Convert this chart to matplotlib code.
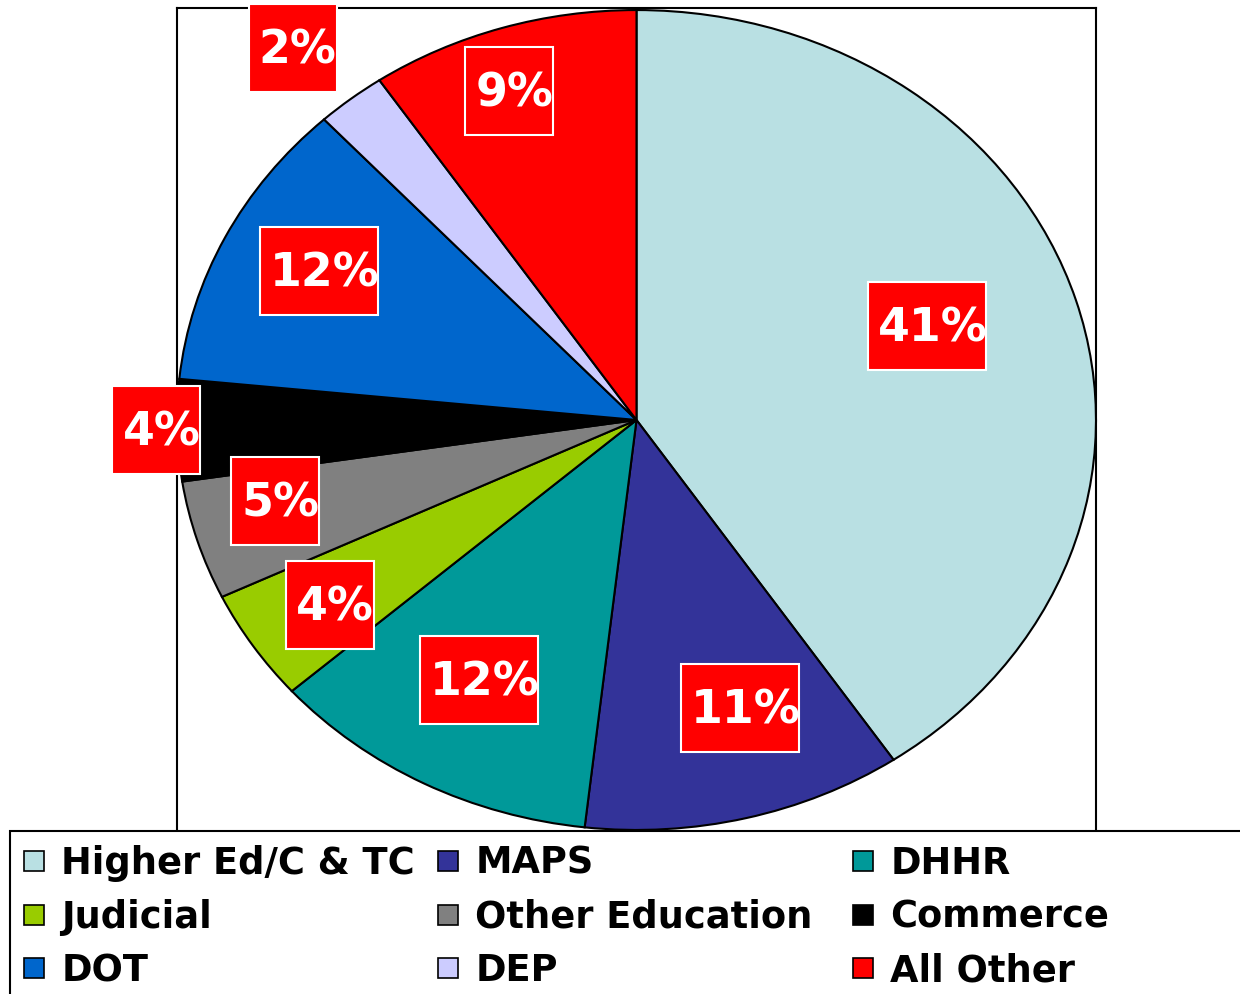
import matplotlib
matplotlib.use("Agg")
import matplotlib.pyplot as plt
import numpy as np
from matplotlib.lines import Line2D
from matplotlib.patches import Rectangle
from matplotlib.transforms import IdentityTransform

categories = ["Higher Ed/C & TC", "MAPS", "DHHR", "Judicial", "Other Education",
              "Commerce", "DOT", "DEP", "All Other"]
shares = [40.55, 11.25, 11.7, 4.4, 4.7, 4.0, 11.5, 2.45, 9.45]
colors = ["#B9E0E3", "#333399", "#009999", "#99CC00", "#808080",
          "#000000", "#0066CC", "#CCCCFF", "#FF0000"]
# label placement: radial distance and relative position within the slice
label_radius = [0.673, 0.738, 0.722, 0.806, 0.81, 1.045, 0.781, 1.177, 0.848]
label_frac = [0.48, 0.40, 0.52, 0.46, 0.68, 0.51, 0.53, 0.38, 0.44]

plt.rcParams['font.family'] = ['DejaVu Sans']
plt.rcParams['font.weight'] = 'bold'

fig = plt.figure(figsize=(12.4, 9.94), dpi=100)
W, H = 1240, 994
ax = fig.add_axes([177 / W, 1 - 832 / H, (1096 - 177) / W, (832 - 8) / H])

wedges, _ = ax.pie(shares, colors=colors, startangle=90, counterclock=False,
                   radius=1.0, wedgeprops=dict(edgecolor='black', linewidth=1.5),
                   frame=True)
ax.set_aspect('auto')
ax.set_xlim(-1.0, 1.0)
ax.set_ylim(-1.005, 1.005)
ax.set_xticks([])
ax.set_yticks([])
for s in ax.spines.values():
    s.set_linewidth(1.5)
    s.set_color('black')

total = sum(shares)
cum = np.concatenate([[0], np.cumsum(shares)]) / total * 360.0
for i, v in enumerate(shares):
    a = np.deg2rad(cum[i] + label_frac[i] * (cum[i + 1] - cum[i]))
    r = label_radius[i]
    x, y = r * np.sin(a), r * np.cos(a)
    txt = f"{round(v / total * 100):d}%"
    px, py = ax.transData.transform((x, y))
    bw = 88 if len(txt) == 2 else 118
    bh = 88
    rect = Rectangle((px - bw / 2, py - bh / 2), bw, bh, transform=IdentityTransform(),
                     facecolor='#FF0000', edgecolor='white', linewidth=1.5,
                     zorder=9, clip_on=False)
    fig.add_artist(rect)
    t = fig.text(px - bw / 2 + 10, py + 2, txt, transform=IdentityTransform(),
                 ha='left', va='center_baseline', color='white', fontsize=33,
                 fontweight='bold', zorder=10)
    t.set_clip_path(rect)

# legend frame
fig.patches.append(Rectangle((10 / W, -0.05), 1.1, 0.05 + (1 - 831 / H),
                             transform=fig.transFigure, facecolor='white',
                             edgecolor='black', linewidth=1.5, zorder=0))

handles = [Line2D([], [], marker='s', linestyle='none', markersize=14.5,
                  markerfacecolor=c, markeredgecolor='black', markeredgewidth=1.2)
           for c in colors]
col_x = [23, 437, 852]
for j in range(3):
    idx = [j, j + 3, j + 6]
    fig.legend([handles[i] for i in idx], [categories[i] for i in idx],
               ncol=1, loc='upper left', bbox_to_anchor=(col_x[j] / W, 1 - 845 / H),
               frameon=False, prop=dict(weight='bold', size=26.5),
               handlelength=0.62, handletextpad=0.42,
               labelspacing=0.45, borderaxespad=0, borderpad=0)

fig.savefig("out.png", dpi=100)
